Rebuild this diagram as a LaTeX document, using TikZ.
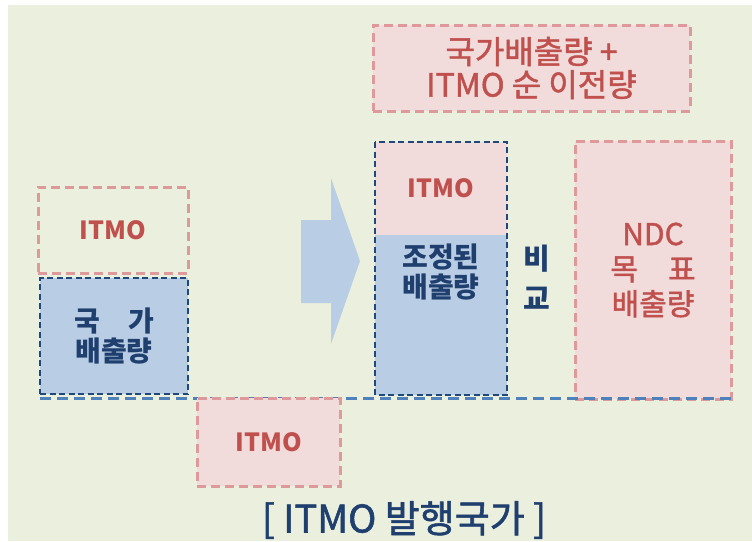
\documentclass[tikz,border=0pt]{standalone}
\usepackage{fontspec}
\setmainfont{Noto Sans CJK KR}
\newfontfamily\medfont[FakeBold=1.5]{Noto Sans CJK KR}
\usetikzlibrary{positioning}

\definecolor{bgolive}{HTML}{EBF0DE}
\definecolor{pinkfill}{HTML}{F2DCDB}
\definecolor{pinkline}{HTML}{DE9A9A}
\definecolor{redtext}{HTML}{C0504D}
\definecolor{bluefill}{HTML}{B9CDE5}
\definecolor{navyline}{HTML}{1F497D}
\definecolor{navytext}{HTML}{1F3F6E}
\definecolor{baseblue}{HTML}{4F81BD}

\begin{document}
\begin{tikzpicture}[x=1pt, y=-1pt,
    % Style for the boxes
    pinkbox/.style={
        rectangle,
        draw=pinkline,
        dash pattern=on 9pt off 5pt,
        line width=3pt,
        fill=pinkfill,
        inner sep=0pt,
        outer sep=0pt
    },
    navybox/.style={
        rectangle,
        draw=navyline,
        dash pattern=on 6pt off 3.5pt,
        line width=2.3pt,
        fill=bluefill,
        inner sep=0pt,
        outer sep=0pt
    },
    redbold/.style={text=redtext, font=\bfseries\fontsize{25}{30}\selectfont},
    redplain/.style={text=redtext, align=center, font=\medfont\fontsize{30}{35}\selectfont},
    navybold/.style={text=navytext, align=center, font=\bfseries\fontsize{28}{30}\selectfont}
]

    % --- Background ---
    \useasboundingbox (0,0) rectangle (752,541);
    \fill[white] (0,0) rectangle (752,541);
    \fill[bgolive] (8,5) rectangle (752,541);

    % --- Top label ---
    \node[pinkbox, minimum width=317pt, minimum height=86pt, redplain,
        font=\medfont\fontsize{32}{33}\selectfont] (sumbox) at (531.5,68)
        {국가배출량 +\\ITMO 순 이전량};

    % --- ITMO issuing country ---
    \node[pinkbox, fill=none, minimum width=150pt, minimum height=86pt, redbold] (leftitmo) at (113,230) {ITMO};
    \node[navybox, minimum width=148pt, minimum height=116pt, navybold] (natem) at (114,336) {국\quad 가\\배출량};

    % --- Arrow ---
    \fill[bluefill] (301,220) -- (331,220) -- (331,178) -- (360,261)
        -- (331,344) -- (331,303) -- (301,303) -- cycle;

    % --- Adjusted emissions ---
    \node[pinkbox, draw=none, minimum width=132pt, minimum height=93pt, redbold] (adjitmo) at (441,188.5) {ITMO};
    \node[navybox, draw=none, minimum width=132pt, minimum height=160pt, anchor=north] (adjem) at (adjitmo.south) {};
    \node[navybold, below=5pt of adjitmo.south] (adjlbl) {조정된\\배출량};
    \draw[navyline, dash pattern=on 6pt off 3.5pt, line width=2.3pt] (adjitmo.north west) rectangle (adjem.south east);

    \node[navybold, font=\bfseries\fontsize{29}{40}\selectfont] (cmp) at (537,277) {비\\교};

    % --- NDC target ---
    \node[pinkbox, minimum width=156pt, minimum height=258pt, redplain] (ndc) at (653,270) {NDC\\목\quad 표\\배출량};

    % --- Baseline ---
    \coordinate (baseL) at (40,398);
    \coordinate (baseR) at (735,398);
    \draw[baseblue, dash pattern=on 11pt off 6pt, line width=3pt] (baseL) -- (baseR);

    % --- Issued ITMO ---
    \node[pinkbox, minimum width=143pt, minimum height=88pt, redbold] (lowitmo) at (268.5,442) {ITMO};

    % --- Caption ---
    \node[text=navytext, font=\medfont\fontsize{38}{40}\selectfont] (caption) at (404,520) {[ ITMO 발행국가 ]};

\end{tikzpicture}
\end{document}
